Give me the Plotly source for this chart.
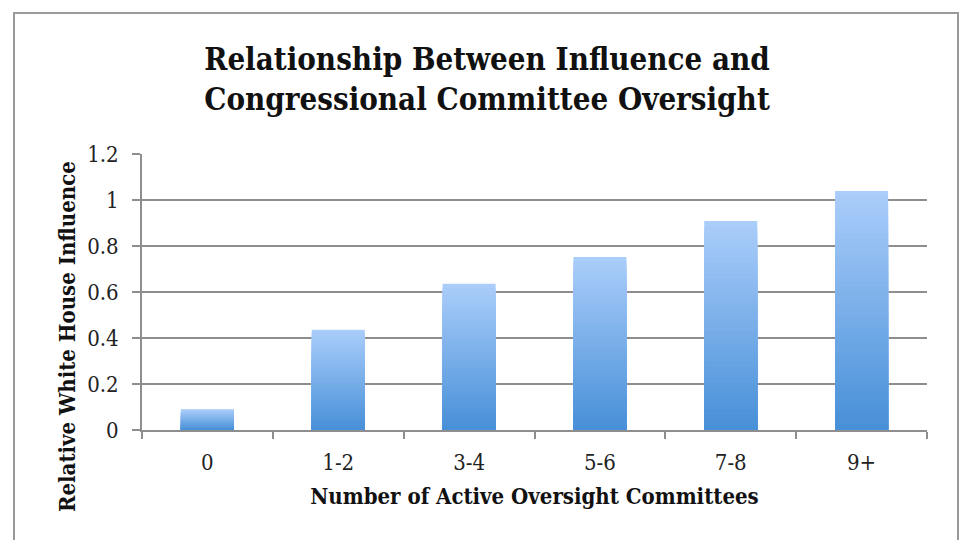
import plotly.graph_objects as go

categories = ["0", "1-2", "3-4", "5-6", "7-8", "9+"]
influence = [0.09, 0.436, 0.636, 0.752, 0.909, 1.039]

title_text = "Relationship Between Influence and<br>Congressional Committee Oversight"
x_title = "Number of Active Oversight Committees"
y_title = "Relative White House Influence"

W, H = 961, 540
L, R, T, B = 142, 927, 154, 430  # plot area in pixels

# gradient simulation: overlaid bars, light at top to darker at bottom
N = 40
top_rgb = (170, 205, 250)
bot_rgb = (72, 144, 216)

fig = go.Figure()
for k in range(N):
    f = (N - k) / N
    t = k / (N - 1)
    c = tuple(round(top_rgb[i] + (bot_rgb[i] - top_rgb[i]) * t) for i in range(3))
    fig.add_trace(go.Bar(
        x=categories, y=[v * f for v in influence],
        marker=dict(color="rgb(%d,%d,%d)" % c, line=dict(width=0)),
        showlegend=False, hoverinfo="skip" if k else "y",
    ))

FAM = "DejaVu Serif Condensed, DejaVu Serif, Liberation Serif, serif"
grid = "#8e8e8e"
pw, ph = R - L, B - T
def px(x): return (x - L) / pw
def py(y): return (B - y) / ph

fig.update_layout(
    width=W, height=H,
    barmode="overlay", bargap=0.595,
    paper_bgcolor="white", plot_bgcolor="white",
    margin=dict(l=L, r=W - R, t=T, b=H - B, pad=0),
    title=dict(text="<b>" + title_text + "</b>", x=487 / W, xanchor="center", xref="container",
               y=1 - 70 / H, yanchor="top", yref="container",
               font=dict(family=FAM, size=31, color="#111")),
    font=dict(family=FAM, color="#222"),
    xaxis=dict(range=[-0.5, 5.5], showline=True, linecolor=grid, linewidth=2,
               ticks="outside", tickson="boundaries", ticklen=7, tickwidth=2, tickcolor=grid,
               tickfont=dict(size=22, color="#222"), ticklabelstandoff=12,
               title=dict(text="<b>" + x_title + "</b>", font=dict(size=22, color="#111"), standoff=14),
               showgrid=False),
    yaxis=dict(range=[0, 1.2], dtick=0.2, showline=True, linecolor=grid, linewidth=2,
               ticks="outside", ticklen=8, tickwidth=2, tickcolor=grid,
               showgrid=True, gridcolor=grid, gridwidth=2,
               tickfont=dict(size=22, color="#222"), ticklabelstandoff=9,
               zeroline=False),
    annotations=[dict(text="<b>" + y_title + "</b>", textangle=-90, showarrow=False,
                      xref="paper", yref="paper", x=px(67), y=py(337),
                      xanchor="center", yanchor="middle",
                      font=dict(family=FAM, size=22, color="#111"))],
)

# outer chart frame (open at the bottom, cut by the image edge)
fig.add_shape(type="path", xref="paper", yref="paper",
              path="M %f,%f L %f,%f L %f,%f L %f,%f" % (px(14), py(560), px(14), py(13), px(958), py(13), px(958), py(560)),
              line=dict(color="#9a9a9a", width=2))

fig.write_html("out.html")
